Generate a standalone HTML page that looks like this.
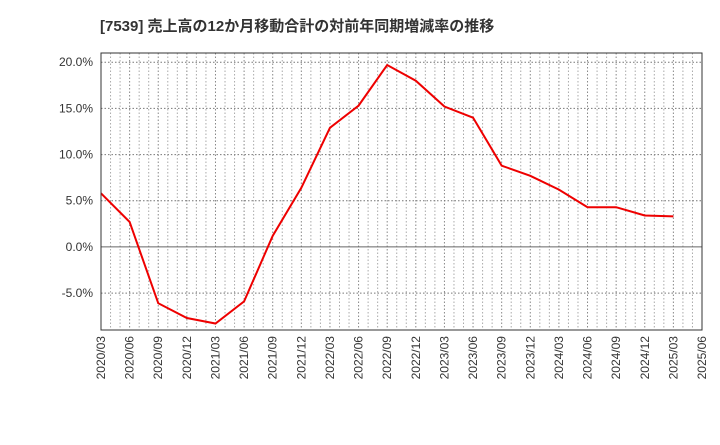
<!DOCTYPE html>
<html><head><meta charset="utf-8"><style>
body{margin:0;background:#fff;}
text{font-family:"Liberation Sans","Noto Sans CJK JP",sans-serif;}
</style></head><body>
<svg width="720" height="440">
<text x="100" y="31" font-size="15" font-weight="bold" fill="#333">[7539]  売上高の12か月移動合計の対前年同期増減率の推移</text>
<g id="grid"></g><g id="axes"></g>
<polyline id="line" fill="none" stroke="#ee0000" stroke-width="2"/>
<rect x="101" y="53" width="601" height="277" fill="none" stroke="#333" stroke-width="1"/>
</svg>
<script>
const categories=["2020/03","2020/06","2020/09","2020/12","2021/03","2021/06","2021/09","2021/12","2022/03","2022/06","2022/09","2022/12","2023/03","2023/06","2023/09","2023/12","2024/03","2024/06","2024/09","2024/12","2025/03"];
const values=[5.8,2.7,-6.1,-7.7,-8.3,-5.9,1.2,6.4,12.9,15.3,19.7,18.0,15.2,14.0,8.8,7.7,6.2,4.3,4.3,3.4,3.3];
const xTickLabels=["2020/03","2020/06","2020/09","2020/12","2021/03","2021/06","2021/09","2021/12","2022/03","2022/06","2022/09","2022/12","2023/03","2023/06","2023/09","2023/12","2024/03","2024/06","2024/09","2024/12","2025/03","2025/06"];
const yTicks=[-5,0,5,10,15,20];
const L=101,R=702,T=53,B=330,yMin=-9.0,yMax=21.0;
const x=i=>L+(R-L)*i/21;
const y=v=>B-(v-yMin)/(yMax-yMin)*(B-T);
const ns="http://www.w3.org/2000/svg";
const g=document.getElementById('grid'),ax=document.getElementById('axes');
function mk(tag,a,p){const e=document.createElementNS(ns,tag);for(const k in a)e.setAttribute(k,a[k]);p.appendChild(e);return e;}
for(let m=1;m<63;m++){const xx=L+(R-L)*m/63;
const e=mk('line',{x1:xx,x2:xx,y1:T,y2:B,stroke:m%3==0?'#888':'#aaa','stroke-width':1,'stroke-dasharray':'1.5,2'},g);

}
yTicks.forEach(v=>{const yy=y(v);
const e=mk('line',{x1:L,x2:R,y1:yy,y2:yy,stroke:v==0?'#666':'#777','stroke-width':1,'stroke-dasharray':v==0?'none':'1.5,2'},g);


const t=mk('text',{x:L-8,y:yy+4,'font-size':12,'text-anchor':'end',fill:'#333'},ax);t.textContent=v.toFixed(1)+'%';

});
xTickLabels.forEach((s,i)=>{const xx=x(i);
const t=mk('text',{x:0,y:0,'font-size':12,'text-anchor':'end',fill:'#333',transform:`translate(${xx+4},${B+6}) rotate(-90)`},ax);t.textContent=s;

});
document.getElementById('line').setAttribute('points',values.map((v,i)=>x(i)+','+y(v)).join(' '));
</script>
</body></html>
